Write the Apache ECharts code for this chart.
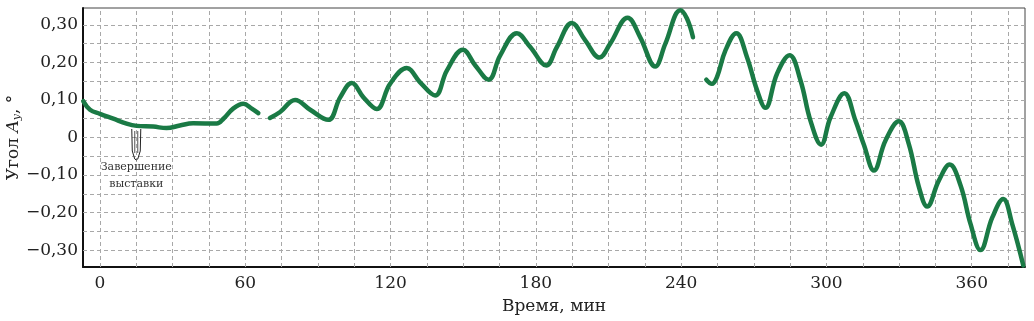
<!DOCTYPE html>
<html><head><meta charset="utf-8">
<script src="https://cdn.jsdelivr.net/npm/echarts@6/dist/echarts.min.js"></script>
<style>html,body{margin:0;padding:0;background:#fff}#c{width:1034px;height:321px}</style>
</head><body><div id="c"></div>
<script>
// Segment 1 (time, min / angle, deg)
const seg1T = [-6.9, -4.1, 0, 5.5, 11, 15.2, 22, 27.5, 33, 38.5, 48.2, 51, 55, 59.2, 62.7, 65.4];
const seg1V = [0.097, 0.074, 0.063, 0.05, 0.037, 0.031, 0.029, 0.025, 0.032, 0.038, 0.037, 0.05, 0.077, 0.09, 0.077, 0.065];
// Segment 2
const seg2T = [70.2, 74.4, 80.6, 86.8, 94.3, 99.2, 104, 108.8, 114.3, 119.8, 126.7, 132.2, 138.4, 143.3, 149.9, 155, 160.5, 165.3, 172.2, 177.7, 184.3, 188.7, 194.9, 200.4, 206.3, 210.7, 217.9, 223.1, 229.3, 233.5, 239.7, 242.4, 244.9];
const seg2V = [0.052, 0.068, 0.1, 0.074, 0.047, 0.107, 0.145, 0.107, 0.076, 0.143, 0.185, 0.147, 0.112, 0.179, 0.234, 0.192, 0.154, 0.219, 0.278, 0.241, 0.192, 0.241, 0.305, 0.259, 0.213, 0.25, 0.319, 0.267, 0.189, 0.25, 0.339, 0.317, 0.267];
// Segment 3
const seg3T = [250.4, 252.7, 254.8, 258.3, 262.8, 267.2, 271.4, 274.8, 279.6, 284.8, 289.3, 293.4, 297.8, 301.7, 307.4, 312, 315.5, 319.6, 324.4, 329.9, 334, 338.2, 341.6, 346.4, 350.9, 355.4, 359.5, 363.6, 368.5, 373, 376.7, 381.3];
const seg3V = [0.154, 0.143, 0.161, 0.232, 0.278, 0.214, 0.125, 0.079, 0.17, 0.219, 0.152, 0.045, -0.019, 0.054, 0.118, 0.045, -0.02, -0.088, -0.008, 0.043, -0.017, -0.132, -0.184, -0.115, -0.072, -0.128, -0.23, -0.3, -0.213, -0.164, -0.23, -0.341];

const xTickLabels = [0, 60, 120, 180, 240, 300, 360];
const yTickLabels = [-0.3, -0.2, -0.1, 0, 0.1, 0.2, 0.3];
const xGrid = [0, 15, 30, 45, 60, 75, 90, 105, 120, 135, 150, 165, 180, 195, 210, 225, 240, 255, 270, 285, 300, 315, 330, 345, 360, 375];
const yGrid = [-0.3, -0.25, -0.2, -0.15, -0.1, -0.05, 0, 0.05, 0.1, 0.15, 0.2, 0.25, 0.3];
const annotT = 15, annotV = 0.028;

function pairs(t, v) { return t.map((x, i) => [x, v[i]]); }
const lineData = [].concat(pairs(seg1T, seg1V), [[null, null]], pairs(seg2T, seg2V), [[null, null]], pairs(seg3T, seg3V));

const FONT = 'DejaVu Serif';
const chart = echarts.init(document.getElementById('c'), null, {renderer: 'canvas'});
const gridLine = {color: '#a8a8a8', width: 1, type: [4, 3]};
chart.setOption({
  animation: false,
  backgroundColor: '#fff',
  grid: {left: 83, right: 9, top: 8, bottom: 54, show: true, borderColor: '#444', borderWidth: 1,
    containLabel: false, outerBoundsMode: 'none'},
  xAxis: {
    type: 'value', min: -7, max: 382,
    name: 'Время, мин', nameLocation: 'middle', nameGap: 31, nameMoveOverlap: false,
    nameTextStyle: {fontFamily: FONT, fontSize: 17, color: '#222'},
    axisLine: {show: true, onZero: false, lineStyle: {color: '#111', width: 2}},
    axisTick: {show: false, customValues: xTickLabels},
    splitLine: {show: false},
    axisLabel: {customValues: xTickLabels, fontFamily: FONT, fontSize: 17, color: '#222', margin: 8,
      formatter: v => String(v)}
  },
  yAxis: {
    type: 'value', min: -0.345, max: 0.345,
    name: '{n|Угол }{a|A}{s|y}{n|, °}', nameLocation: 'middle', nameGap: 60, nameRotate: 90, nameMoveOverlap: false,
    nameTextStyle: {rich: {
      n: {fontFamily: FONT, fontSize: 17, color: '#222'},
      a: {fontFamily: FONT, fontSize: 17, fontStyle: 'italic', color: '#222'},
      s: {fontFamily: FONT, fontSize: 11, fontStyle: 'italic', color: '#222', verticalAlign: 'bottom', padding: [8, 0, 0, 0]}
    }},
    axisLine: {show: true, onZero: false, lineStyle: {color: '#111', width: 2}},
    axisTick: {show: false, customValues: yTickLabels},
    splitLine: {show: false},
    axisLabel: {customValues: yTickLabels, fontFamily: FONT, fontSize: 17, color: '#222', margin: 5,
      formatter: v => Math.abs(v) < 1e-9 ? '0' : (v < 0 ? '\u2212' : '') + Math.abs(v).toFixed(2).replace('.', ',')}
  },
  series: [
    {
      type: 'line', data: [], silent: true, z: 1,
      markLine: {
        silent: true, symbol: ['none', 'none'], animation: false,
        label: {show: false}, lineStyle: gridLine,
        data: xGrid.map(v => ({xAxis: v})).concat(yGrid.map(v => ({yAxis: v})))
      }
    },
    {
      type: 'line', data: lineData, showSymbol: false, smooth: 0.4, connectNulls: false, z: 5,
      lineStyle: {color: '#1a7a45', width: 4.5, cap: 'round', join: 'round'}
    }
  ]
});

// annotation "Завершение выставки"
const p = chart.convertToPixel({gridIndex: 0}, [annotT, annotV]);
const bx = p[0], by = p[1] + 2;
chart.setOption({
  graphic: [
    {type: 'polyline', z: 10, silent: true,
      shape: {points: [[bx - 4.5, by], [bx - 4, by + 22], [bx - 1.5, by + 30], [bx, by + 31], [bx + 1.5, by + 30], [bx + 4, by + 22], [bx + 4.5, by]]},
      style: {stroke: '#222', fill: null, lineWidth: 1}},
    {type: 'polyline', z: 10, silent: true,
      shape: {points: [[bx - 1.5, by + 2], [bx - 1.5, by + 24]]}, style: {stroke: '#222', lineWidth: 0.8}},
    {type: 'polyline', z: 10, silent: true,
      shape: {points: [[bx + 1.5, by + 2], [bx + 1.5, by + 24]]}, style: {stroke: '#222', lineWidth: 0.8}},
    {type: 'text', z: 10, silent: true, x: bx, y: by + 38,
      style: {text: 'Завершение', font: '11px "DejaVu Serif"', fill: '#333', textAlign: 'center', textVerticalAlign: 'middle'}},
    {type: 'text', z: 10, silent: true, x: bx, y: by + 55,
      style: {text: 'выставки', font: '11px "DejaVu Serif"', fill: '#333', textAlign: 'center', textVerticalAlign: 'middle'}}
  ]
});
</script></body></html>
